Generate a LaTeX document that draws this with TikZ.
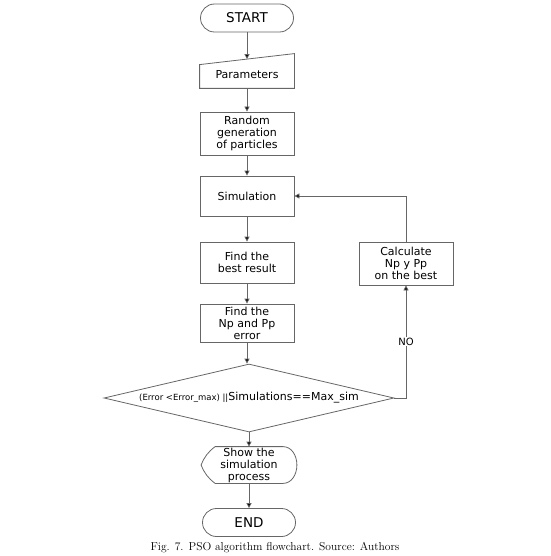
\documentclass[tikz,border=0pt]{standalone}
\usepackage{fontspec}
\setsansfont{DejaVu Sans}
\usetikzlibrary{arrows.meta,shapes.geometric}
\tikzstyle{line}=[draw=black!60,line width=0.8pt]
\tikzstyle{term}=[line,rounded corners=14pt,minimum width=93pt,minimum height=28pt,font=\sffamily\fontsize{13.5}{16}\selectfont]
\tikzstyle{proc}=[line,minimum width=94pt,align=center,inner sep=2pt,font=\sffamily\fontsize{11}{12}\selectfont]
\tikzstyle{dec}=[line,diamond,aspect=4.3,minimum width=290pt,minimum height=68pt,inner sep=0pt,font=\sffamily\fontsize{11}{12}\selectfont]
\tikzstyle{arr}=[line,-{Triangle[length=5pt,width=5pt,fill=black]}]

\begin{document}
\begin{tikzpicture}[x=1pt,y=1pt]
\useasboundingbox (0,0) rectangle (550,-556);
\node[term] (S) at (247,-18) {START};
\node[proc,draw=none,minimum height=26pt] (P) at (247,-75) {Parameters};
\coordinate (Ptop) at ([yshift=2.5pt]P.north);
\node[proc,minimum height=43pt] (R) at (247,-133.5) {Random\\generation\\of particles};
\node[proc,minimum height=40pt] (Sim) at (247,-196) {Simulation};
\node[proc,minimum height=41pt] (B) at (247,-262.5) {Find the\\best result};
\node[proc,minimum height=38pt] (N) at (247,-323) {Find the\\Np and Pp\\error};
\node[dec] (D) at (249,-398) {{\fontsize{8.5}{10}\selectfont (Error <Error\_max) ||}Simulations==Max\_sim};
\node[proc,draw=none,minimum width=95pt,minimum height=36pt,inner sep=0pt] (Sh) at (249,-465) {Show the\\simulation\\process};
\node[term] (E) at (249,-522.5) {END};
\node[proc,minimum height=43pt] (C) at (406,-263.5) {Calculate\\Np y Pp\\on the best};
\node[font=\fontsize{11.5}{13}\selectfont] (cap) at (275,-548) {Fig. 7. PSO algorithm flowchart. Source: Authors};
% odd shapes
\draw[line] (P.south west) -- (P.south east) -- ([yshift=8pt]P.north east) -- ([yshift=-3pt]P.north west) -- cycle;
\draw[line] (Sh.west) to[bend left=15] ([xshift=14pt]Sh.north west) -- ([xshift=-14pt]Sh.north east)
  to[out=0,in=90] (Sh.east) to[out=-90,in=0] ([xshift=-14pt]Sh.south east)
  -- ([xshift=14pt]Sh.south west) to[bend left=15] (Sh.west);
\path[arr]
(S) edge (Ptop)
(P) edge (R)
(R) edge (Sim)
(Sim) edge (B)
(B) edge (N)
(N) edge (N |- D.north)
(D) edge (Sh)
(Sh) edge (E);
\draw[arr] (D.east) -| node[pos=0.75,fill=white,inner sep=1pt,font=\sffamily\fontsize{10}{12}\selectfont] {NO} (C.south);
\draw[arr] (C.north) |- (Sim.east);
\end{tikzpicture}
\end{document}
